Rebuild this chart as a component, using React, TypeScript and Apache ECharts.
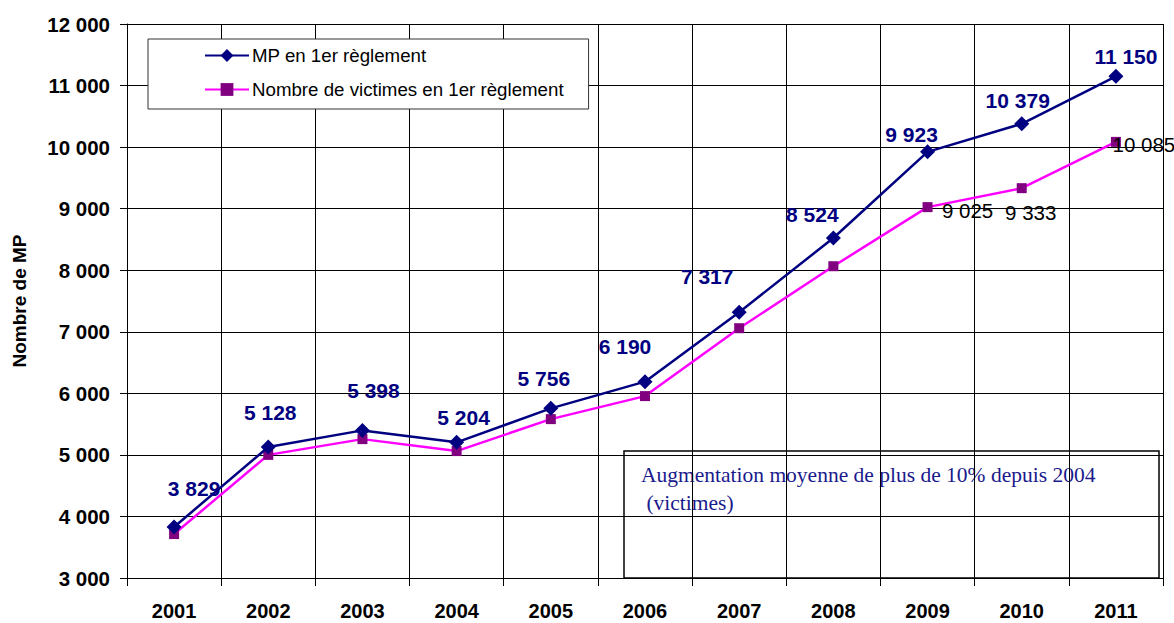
import React, { useEffect, useRef } from "react";
import * as echarts from "echarts";

const years = ["2001", "2002", "2003", "2004", "2005", "2006", "2007", "2008", "2009", "2010", "2011"];
const mpValues = [3829, 5128, 5398, 5204, 5756, 6190, 7317, 8524, 9923, 10379, 11150];
const victimValues = [3714, 5000, 5256, 5062, 5581, 5955, 7058, 8065, 9025, 9333, 10085];
const victimLabelYears = ["2009", "2010", "2011"];
const yMin = 3000;
const yMax = 12000;
const yInterval = 1000;
const seriesNames = ["MP en 1er règlement", "Nombre de victimes en 1er règlement"];
const yAxisTitle = "Nombre de MP";
const noteLines = ["Augmentation moyenne de plus de 10% depuis 2004", " (victimes)"];

// label placement (layout only)
const mpLabelOffsets = [
  [20, -38], [2, -35], [11, -40], [7, -25], [-7, -30], [-20, -35],
  [-32, -36], [-21, -23], [-16, -17], [-4, -23], [10, -20],
];
const victimLabelOffsets: Record<string, number[]> = {
  "2009": [40, 3],
  "2010": [9, 24],
  "2011": [28, 3],
};

const FONT = "'Liberation Sans', Arial, sans-serif";
const SERIF = "'Liberation Serif', 'Times New Roman', serif";
const fmt = (v: number) => String(v).replace(/\B(?=(\d{3})+(?!\d))/g, " ");

export default function App() {
  const ref = useRef<HTMLDivElement>(null);

  useEffect(() => {
    if (!ref.current) return;
    const chart = echarts.init(ref.current, null, { renderer: "svg" });

    const mpData = mpValues.map((v, i) => ({
      value: v,
      label: { offset: mpLabelOffsets[i] },
    }));
    const victimData = victimValues.map((v, i) => {
      const y = years[i];
      const show = victimLabelYears.includes(y);
      return {
        value: v,
        label: show ? { show: true, offset: victimLabelOffsets[y] } : { show: false },
      };
    });

    chart.setOption({
      animation: false,
      backgroundColor: "#ffffff",
      textStyle: { fontFamily: FONT },
      grid: { left: 127, right: 11, top: 24, bottom: 45, containLabel: false },
      legend: {
        show: true,
        orient: "vertical",
        left: 148,
        top: 39,
        padding: [7, 25, 10, 56],
        itemGap: 15,
        itemWidth: 44,
        itemHeight: 16,
        borderColor: "#333333",
        borderWidth: 1,
        backgroundColor: "#ffffff",
        textStyle: { fontFamily: FONT, fontSize: 18.7, color: "#000000", padding: [0, 0, 0, -2] },
        data: seriesNames,
      },
      xAxis: {
        type: "category",
        data: years,
        boundaryGap: true,
        axisLine: { lineStyle: { color: "#000000", width: 1 } },
        axisTick: { show: true, length: 8, alignWithLabel: false, lineStyle: { color: "#000000" } },
        splitLine: { show: true, lineStyle: { color: "#000000", width: 1 } },
        axisLabel: { fontFamily: FONT, fontSize: 20, fontWeight: "bold", color: "#000000", margin: 23 },
      },
      yAxis: {
        type: "value",
        min: yMin,
        max: yMax,
        interval: yInterval,
        name: yAxisTitle,
        nameLocation: "middle",
        nameRotate: 90,
        nameGap: 98,
        nameTextStyle: { fontFamily: FONT, fontSize: 19, fontWeight: "bold", color: "#000000" },
        axisLine: { show: true, lineStyle: { color: "#000000", width: 1 } },
        axisTick: { show: true, length: 7, lineStyle: { color: "#000000" } },
        splitLine: { show: true, lineStyle: { color: "#000000", width: 1 } },
        axisLabel: {
          fontFamily: FONT,
          fontSize: 20.5,
          fontWeight: "bold",
          color: "#000000",
          margin: 17,
          formatter: (v: number) => fmt(v),
        },
      },
      series: [
        {
          name: seriesNames[0],
          type: "line",
          data: mpData,
          symbol: "diamond",
          symbolSize: 15,
          itemStyle: { color: "#000080" },
          lineStyle: { color: "#000080", width: 2.5 },
          z: 3,
          label: {
            show: true,
            position: "inside",
            align: "center",
            verticalAlign: "middle",
            fontFamily: FONT,
            fontSize: 21,
            fontWeight: "bold",
            color: "#000080",
            formatter: (p: any) => fmt(p.value),
          },
        },
        {
          name: seriesNames[1],
          type: "line",
          data: victimData,
          symbol: "rect",
          symbolSize: 10,
          itemStyle: { color: "#800080" },
          lineStyle: { color: "#ff00ff", width: 2.5 },
          z: 2,
          label: {
            show: false,
            position: "inside",
            align: "center",
            verticalAlign: "middle",
            fontFamily: FONT,
            fontSize: 20.5,
            color: "#000000",
            formatter: (p: any) => fmt(p.value),
          },
        },
      ],
      graphic: [
        {
          type: "group",
          z: 100,
          children: [
            {
              type: "rect",
              shape: { x: 624, y: 451, width: 535, height: 127 },
              style: { fill: "#ffffff", stroke: "#000000", lineWidth: 1.5 },
            },
            {
              type: "text",
              x: 641,
              y: 475,
              style: {
                text: noteLines[0],
                font: `21.5px ${SERIF}`,
                fill: "#1a1a8c",
                verticalAlign: "middle",
              },
            },
            {
              type: "text",
              x: 641,
              y: 503,
              style: {
                text: noteLines[1],
                font: `21.5px ${SERIF}`,
                fill: "#1a1a8c",
                verticalAlign: "middle",
              },
            },
          ],
        },
      ],
    });

    return () => chart.dispose();
  }, []);

  return (
    <div
      ref={ref}
      style={{ position: "absolute", left: 0, top: 0, width: 1174, height: 623 }}
    />
  );
}
